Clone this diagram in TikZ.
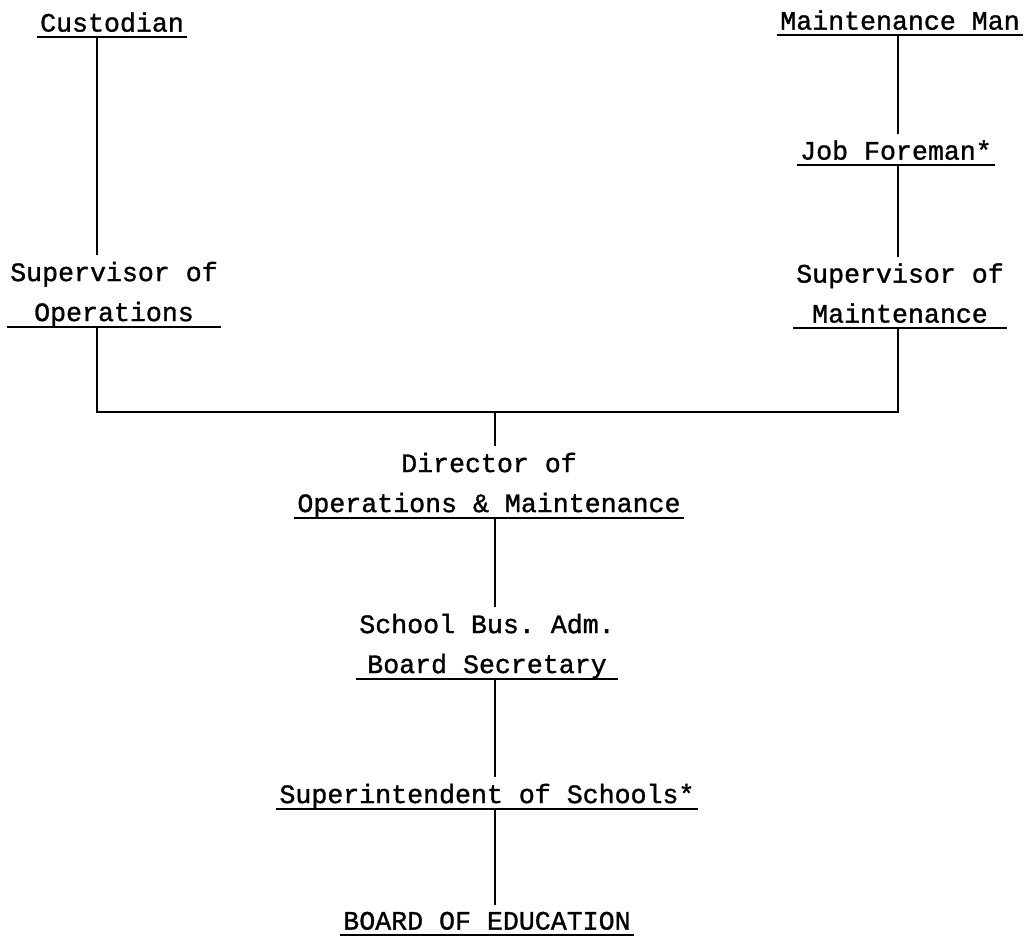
\documentclass[tikz,border=0pt]{standalone}
\usepackage{fontspec}
\newfontfamily\typer{Liberation Mono}[FakeBold=1.2]
\newcommand{\dropline}{\rule[-2.5pt]{0pt}{2.5pt}}
\frenchspacing

\begin{document}
\begin{tikzpicture}[
    x=0.5pt, y=-0.5pt,
    line cap=butt,
    post/.style={font=\typer\fontsize{13.3}{20}\selectfont, align=center, anchor=south, inner xsep=1.5pt, inner ysep=0pt},
    rule/.style={line width=1.4pt},
    link/.style={line width=0.9pt, shorten >=3pt}
  ]
  \useasboundingbox (0,0) rectangle (1030,937);

  % Posts
  \node[post] (cust)  at (112,37)  {Custodian\dropline};
  \node[post] (supop) at (114,327) {Supervisor of\\Operations\dropline};
  \node[post] (mman)  at (900,35)  {Maintenance Man\dropline};
  \node[post] (jobf)  at (896,165) {Job Foreman*\dropline};
  \node[post] (supmt) at (900,328) {Supervisor of\\Maintenance\dropline};
  \node[post] (dir)   at (489,518) {Director of\\Operations \& Maintenance\dropline};
  \node[post] (sba)   at (487,679) {School Bus. Adm.\\Board Secretary\dropline};
  \node[post] (supt)  at (487,809) {Superintendent of Schools*\dropline};
  \node[post] (board) at (487,935) {BOARD OF EDUCATION\dropline};

  % Underlines
  \foreach \n in {cust, supop, mman, jobf, supmt, dir, sba, supt, board} {
    \draw[rule] (\n.south west) -- (\n.south east);
  }

  % Connectors
  \coordinate (lft) at (97,412);
  \coordinate (rgt) at (898,412);
  \coordinate (mid) at (495,412);

  \draw[link] (cust.south -| lft) -- (supop.north -| lft);
  \draw[link] (mman.south -| rgt) -- (jobf.north -| rgt);
  \draw[link] (jobf.south -| rgt) -- (supmt.north -| rgt);
  \draw[link, line width=1.1pt, shorten >=0pt] (supop.south -| lft) -- (lft) -- (rgt) -- (supmt.south -| rgt);
  \draw[link] (mid) -- (dir.north -| mid);
  \draw[link] (dir.south -| mid) -- (sba.north -| mid);
  \draw[link] (sba.south -| mid) -- (supt.north -| mid);
  \draw[link] (supt.south -| mid) -- (board.north -| mid);
\end{tikzpicture}
\end{document}
